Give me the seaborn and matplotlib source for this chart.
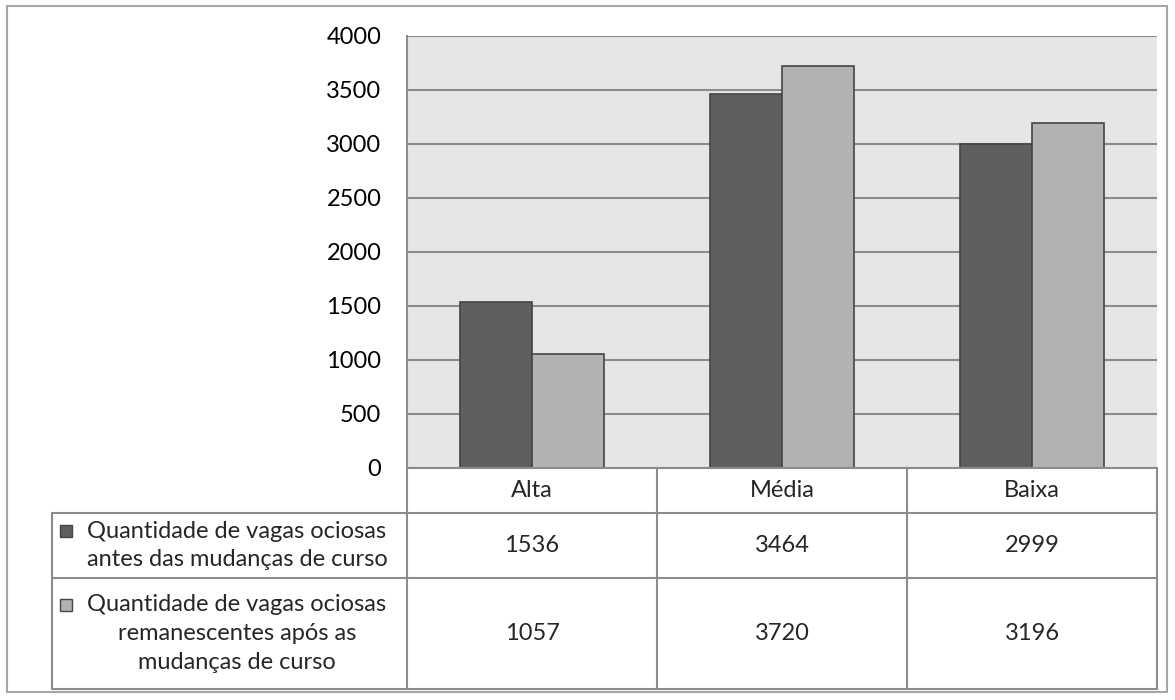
import matplotlib
matplotlib.use("Agg")
import matplotlib.pyplot as plt
import seaborn as sns
import pandas as pd
from matplotlib.patches import Rectangle

# ---- data ----
categories = ["Alta", "Média", "Baixa"]
series_names = [
    "Quantidade de vagas ociosas\nantes das mudanças de curso",
    "Quantidade de vagas ociosas\nremanescentes após as\nmudanças de curso",
]
antes = [1536, 3464, 2999]
apos = [1057, 3720, 3196]
y_ticks = [0, 500, 1000, 1500, 2000, 2500, 3000, 3500, 4000]

series_values = [antes, apos]
colors = ["#5f5f5f", "#b2b2b2"]

sns.set_theme(style="white")
plt.rcParams['font.family'] = ['Lato', 'DejaVu Sans']

df = pd.DataFrame({
    "cat": categories * 2,
    "serie": [series_names[0]] * len(categories) + [series_names[1]] * len(categories),
    "val": antes + apos,
})

W, H = 1175, 700
fig = plt.figure(figsize=(W / 100, H / 100), dpi=100)
fig.patch.set_facecolor("white")


def px(l, t, r, b):
    return [l / W, 1 - b / H, (r - l) / W, (b - t) / H]


PL, PT, PR, PB = 407, 36, 1157, 468
ax = fig.add_axes(px(PL, PT, PR, PB))
ax.set_facecolor("#e6e6e6")
sns.barplot(data=df, x="cat", y="val", hue="serie", palette=colors,
            width=0.576, edgecolor="#454545", linewidth=1.2, ax=ax,
            legend=False, saturation=1, zorder=3)
ax.set_xlim(-0.5, len(categories) - 0.5)
ax.set_ylim(0, 4000)
ax.set_yticks(y_ticks)
ax.set_yticklabels([str(t) for t in y_ticks])
ax.yaxis.grid(True, color="#8c8c8c", lw=1.5)
ax.set_axisbelow(True)
ax.set_xticks([])
ax.set_xlabel("")
ax.set_ylabel("")
for s in ["top", "right", "bottom"]:
    ax.spines[s].set_visible(False)
ax.spines["left"].set_color("#8c8c8c")
ax.spines["left"].set_linewidth(1.5)
fs = 17
ax.tick_params(axis="y", length=0, pad=18.5, labelsize=fs, labelcolor="black")

# ---- overlay for data table & border ----
tab = fig.add_axes([0, 0, 1, 1])
tab.set_xlim(0, W)
tab.set_ylim(H, 0)
tab.axis("off")
tab.patch.set_alpha(0)

lc = "#8c8c8c"
lw = 1.5
tab.add_patch(Rectangle((7, 6), 1160, 686, fill=False, ec="#a6a6a6", lw=1.5))

ncol = len(categories)
colw = (PR - PL) / ncol
col_edges = [PL + i * colw for i in range(ncol + 1)]
TL = 52
rows_y = [468, 513, 578, 689]

tab.plot([PL, PR], [rows_y[0], rows_y[0]], color=lc, lw=lw)
for y in rows_y[1:]:
    tab.plot([TL, PR], [y, y], color=lc, lw=lw)
tab.plot([TL, TL], [rows_y[1], rows_y[3]], color=lc, lw=lw)
for x in col_edges:
    tab.plot([x, x], [rows_y[0], rows_y[3]], color=lc, lw=lw)

for i, c in enumerate(categories):
    cx = (col_edges[i] + col_edges[i + 1]) / 2
    tab.text(cx, (rows_y[0] + rows_y[1]) / 2, c, ha="center", va="center", fontsize=fs)
    for r, vals in enumerate(series_values):
        cy = (rows_y[r + 1] + rows_y[r + 2]) / 2
        tab.text(cx, cy, str(vals[i]), ha="center", va="center", fontsize=fs)

line_h = 29
for r, name in enumerate(series_names):
    cy = (rows_y[r + 1] + rows_y[r + 2]) / 2
    nl = name.count("\n") + 1
    tab.text(237, cy, name, ha="center", va="center", fontsize=fs,
             multialignment="center", linespacing=1.45)
    ky = cy - (nl - 1) / 2 * line_h
    tab.add_patch(Rectangle((60, ky - 6), 12, 12, fc=colors[r], ec="#454545", lw=1))

fig.savefig("out.png", dpi=100, facecolor="white")
